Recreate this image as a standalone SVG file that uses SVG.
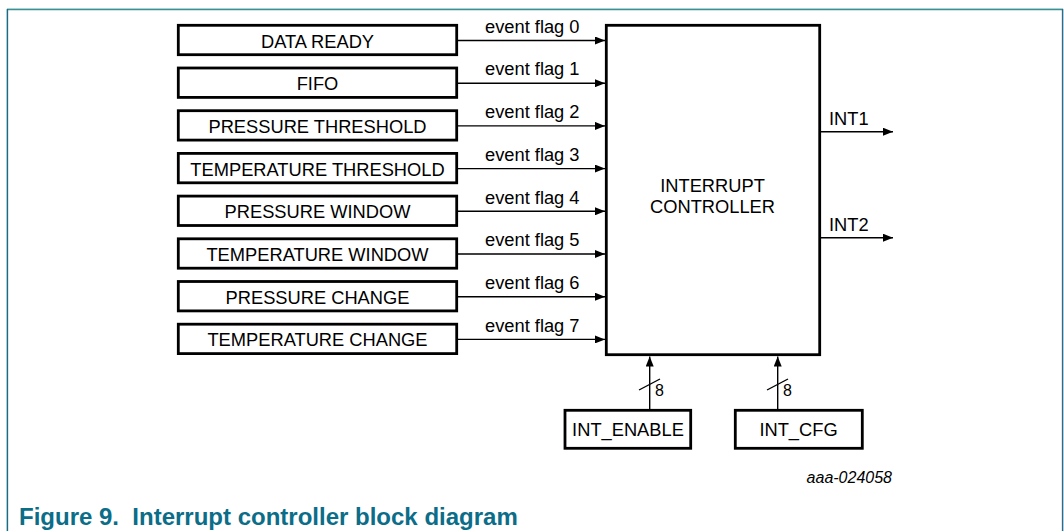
<svg xmlns="http://www.w3.org/2000/svg" width="1064" height="531" viewBox="0 0 1064 531">
<defs>
<style>
.box{fill:#fff;stroke:#000;stroke-width:2.8}
.t{font-family:"Liberation Sans",Arial,sans-serif;font-size:18.3px;fill:#000}
.c{text-anchor:middle}
.w{stroke:#000;stroke-width:1.4;fill:none}
.cap{font-family:"Liberation Sans",Arial,sans-serif;font-size:24px;font-weight:bold;fill:#0b6d88}
</style>
<marker id="ah" markerWidth="10" markerHeight="8" refX="10" refY="4" orient="auto" markerUnits="userSpaceOnUse">
<path d="M0,0 L10,4 L0,8 Z" fill="#000"/>
</marker>
</defs>
<rect width="1064" height="531" fill="#fff"/>
<g id="frame">
<line x1="7" y1="8.5" x2="1063" y2="8.5" stroke="#a9d2d3" stroke-width="1"/>
<line x1="7" y1="9.6" x2="1063" y2="9.6" stroke="#3e8f93" stroke-width="1.4"/>
<line x1="7.4" y1="9" x2="7.4" y2="531" stroke="#1a6c84" stroke-width="1.5"/>
<line x1="1062.6" y1="9" x2="1062.6" y2="531" stroke="#2a6d8a" stroke-width="1.5"/>
</g>
<g id="connectors">
<line class="w" x1="457" y1="40.5" x2="605" y2="40.5" marker-end="url(#ah)"/>
<line class="w" x1="457" y1="83.2" x2="605" y2="83.2" marker-end="url(#ah)"/>
<line class="w" x1="457" y1="125.9" x2="605" y2="125.9" marker-end="url(#ah)"/>
<line class="w" x1="457" y1="168.6" x2="605" y2="168.6" marker-end="url(#ah)"/>
<line class="w" x1="457" y1="211.3" x2="605" y2="211.3" marker-end="url(#ah)"/>
<line class="w" x1="457" y1="254" x2="605" y2="254" marker-end="url(#ah)"/>
<line class="w" x1="457" y1="296.7" x2="605" y2="296.7" marker-end="url(#ah)"/>
<line class="w" x1="457" y1="339.4" x2="605" y2="339.4" marker-end="url(#ah)"/>
<line class="w" x1="820" y1="131.7" x2="893" y2="131.7" marker-end="url(#ah)"/>
<line class="w" x1="820" y1="237.7" x2="893" y2="237.7" marker-end="url(#ah)"/>
<line class="w" x1="649.7" y1="409" x2="649.7" y2="356.5" marker-end="url(#ah)"/>
<line class="w" x1="777.7" y1="409" x2="777.7" y2="356.5" marker-end="url(#ah)"/>
<line class="w" x1="639" y1="390" x2="660" y2="379"/>
<line class="w" x1="767" y1="390" x2="788" y2="379"/>
<text class="t" x="485" y="32.7">event flag 0</text>
<text class="t" x="485" y="75.4">event flag 1</text>
<text class="t" x="485" y="118.1">event flag 2</text>
<text class="t" x="485" y="160.8">event flag 3</text>
<text class="t" x="485" y="203.5">event flag 4</text>
<text class="t" x="485" y="246.2">event flag 5</text>
<text class="t" x="485" y="288.9">event flag 6</text>
<text class="t" x="485" y="331.6">event flag 7</text>
<text class="t" x="829" y="125">INT1</text>
<text class="t" x="829" y="231">INT2</text>
<text class="t" x="655" y="396" style="font-size:16px">8</text>
<text class="t" x="783" y="396" style="font-size:16px">8</text>
</g>
<g id="n0"><rect class="box" x="178.3" y="25.3" width="278.4" height="29.4"/><text class="t c" x="317.5" y="47.5">DATA READY</text></g>
<g id="n1"><rect class="box" x="178.3" y="68" width="278.4" height="29.4"/><text class="t c" x="317.5" y="90.2">FIFO</text></g>
<g id="n2"><rect class="box" x="178.3" y="110.7" width="278.4" height="29.4"/><text class="t c" x="317.5" y="132.9">PRESSURE THRESHOLD</text></g>
<g id="n3"><rect class="box" x="178.3" y="153.4" width="278.4" height="29.4"/><text class="t c" x="317.5" y="175.6">TEMPERATURE THRESHOLD</text></g>
<g id="n4"><rect class="box" x="178.3" y="196.1" width="278.4" height="29.4"/><text class="t c" x="317.5" y="218.3">PRESSURE WINDOW</text></g>
<g id="n5"><rect class="box" x="178.3" y="238.8" width="278.4" height="29.4"/><text class="t c" x="317.5" y="261">TEMPERATURE WINDOW</text></g>
<g id="n6"><rect class="box" x="178.3" y="281.5" width="278.4" height="29.4"/><text class="t c" x="317.5" y="303.7">PRESSURE CHANGE</text></g>
<g id="n7"><rect class="box" x="178.3" y="324.2" width="278.4" height="29.4"/><text class="t c" x="317.5" y="346.4">TEMPERATURE CHANGE</text></g>
<g id="ctrl"><rect class="box" x="606.3" y="25.3" width="213.4" height="329.4"/><text class="t c" x="712.5" y="191.5">INTERRUPT</text><text class="t c" x="712.5" y="213">CONTROLLER</text></g>
<g id="int_enable"><rect class="box" x="565" y="410.3" width="125.7" height="38"/><text class="t c" x="628" y="436">INT_ENABLE</text></g>
<g id="int_cfg"><rect class="box" x="735.3" y="410.3" width="127" height="38"/><text class="t c" x="798.5" y="436">INT_CFG</text></g>
<text x="892" y="483" text-anchor="end" style="font-family:'Liberation Sans',Arial,sans-serif;font-size:16px;font-style:italic;fill:#000">aaa-024058</text>
<text class="cap" x="19" y="525">Figure 9.&#160; Interrupt controller block diagram</text>
</svg>
